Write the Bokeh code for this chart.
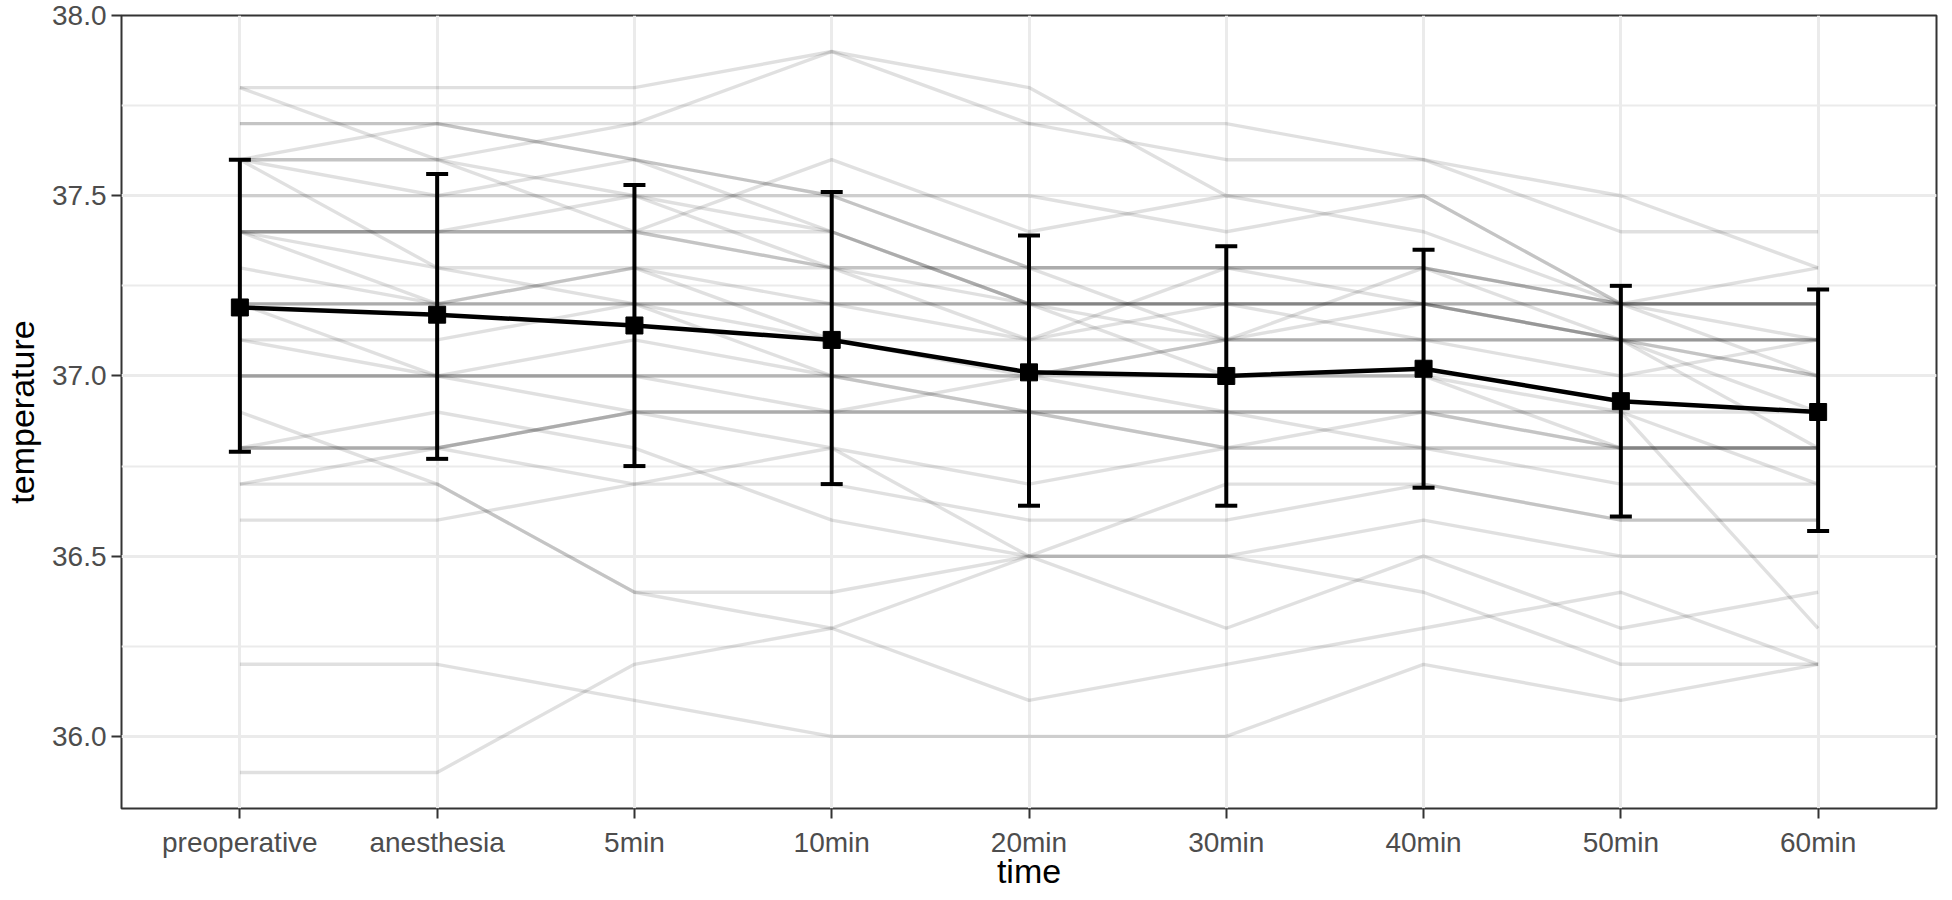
from bokeh.plotting import figure
from bokeh.models import (FactorRange, Range1d, SingleIntervalTicker, PrintfTickFormatter,
                          Whisker, TeeHead, ColumnDataSource)
from bokeh.embed import file_html
from bokeh.resources import INLINE

# ---------------- data ----------------
times = ["preoperative", "anesthesia", "5min", "10min", "20min", "30min", "40min", "50min", "60min"]

# group mean and mean +/- sd (error bars)
mean_temp = [37.19, 37.17, 37.14, 37.10, 37.01, 37.00, 37.02, 36.93, 36.90]
upper_temp = [37.60, 37.56, 37.53, 37.51, 37.39, 37.36, 37.35, 37.25, 37.24]
lower_temp = [36.79, 36.77, 36.75, 36.70, 36.64, 36.64, 36.69, 36.61, 36.57]

# individual patients (temperature at each time point)
p01 = [37.8, 37.8, 37.8, 37.9, 37.8, 37.5, 37.5, 37.2, 37.1]
p02 = [37.8, 37.6, 37.4, 37.6, 37.4, 37.5, 37.4, 37.2, 37.2]
p03 = [37.7, 37.7, 37.7, 37.9, 37.7, 37.6, 37.6, 37.5, 37.3]
p04 = [37.7, 37.7, 37.6, 37.5, 37.3, 37.3, 37.3, 37.1, 37.1]
p05 = [37.6, 37.7, 37.6, 37.5, 37.3, 37.1, 37.3, 37.2, 37.0]
p06 = [37.6, 37.6, 37.7, 37.7, 37.7, 37.7, 37.6, 37.4, 37.4]
p07 = [37.6, 37.6, 37.5, 37.4, 37.2, 37.2, 37.2, 37.2, 37.2]
p08 = [37.6, 37.5, 37.6, 37.4, 37.2, 37.1, 37.2, 37.1, 37.1]
p09 = [37.6, 37.3, 37.3, 37.3, 37.3, 37.3, 37.2, 37.2, 37.2]
p10 = [37.5, 37.5, 37.5, 37.5, 37.5, 37.4, 37.5, 37.2, 37.3]
p11 = [37.4, 37.4, 37.5, 37.3, 37.1, 37.3, 37.3, 37.2, 37.2]
p12 = [37.4, 37.4, 37.4, 37.3, 37.2, 37.2, 37.2, 37.1, 37.1]
p13 = [37.4, 37.3, 37.2, 37.2, 37.2, 37.2, 37.1, 37.0, 37.1]
p14 = [37.4, 37.2, 37.3, 37.2, 37.1, 37.2, 37.2, 37.1, 36.9]
p15 = [37.3, 37.2, 37.3, 37.1, 37.1, 37.1, 37.1, 37.1, 37.0]
p16 = [37.2, 37.2, 37.2, 37.2, 37.2, 37.0, 37.0, 36.9, 36.3]
p17 = [37.2, 37.2, 37.2, 37.0, 36.9, 36.9, 36.9, 36.8, 36.8]
p18 = [37.2, 37.0, 36.9, 36.9, 36.9, 36.9, 36.9, 36.9, 36.7]
p19 = [37.1, 37.1, 37.2, 37.1, 37.0, 37.0, 37.0, 36.8, 36.8]
p20 = [37.1, 37.0, 37.1, 37.0, 36.9, 36.8, 36.8, 36.8, 36.8]
p21 = [37.0, 37.0, 37.0, 37.0, 37.0, 37.1, 37.1, 37.1, 36.8]
p22 = [37.0, 37.0, 37.0, 36.9, 37.0, 36.9, 36.9, 36.9, 36.9]
p23 = [36.9, 36.7, 36.4, 36.4, 36.5, 36.5, 36.6, 36.5, 36.5]
p24 = [36.8, 36.9, 36.8, 36.6, 36.5, 36.5, 36.4, 36.2, 36.2]
p25 = [36.8, 36.8, 36.9, 36.8, 36.7, 36.8, 36.8, 36.7, 36.7]
p26 = [36.8, 36.8, 36.9, 36.9, 36.9, 36.8, 36.9, 36.8, 36.8]
p27 = [36.7, 36.8, 36.7, 36.8, 36.5, 36.7, 36.7, 36.6, 36.6]
p28 = [36.7, 36.7, 36.4, 36.3, 36.1, 36.2, 36.3, 36.4, 36.2]
p29 = [36.6, 36.6, 36.7, 36.7, 36.6, 36.6, 36.7, 36.6, 36.6]
p30 = [36.2, 36.2, 36.1, 36.0, 36.0, 36.0, 36.2, 36.1, 36.2]
p31 = [35.9, 35.9, 36.2, 36.3, 36.5, 36.3, 36.5, 36.3, 36.4]
p32 = [37.4, 37.4, 37.4, 37.3, 37.3, 37.3, 37.3, 37.2, 37.2]
p33 = [37.2, 37.2, 37.2, 37.2, 37.2, 37.2, 37.2, 37.2, 37.2]
p34 = [37.0, 37.0, 37.0, 37.0, 37.0, 37.1, 37.1, 37.1, 37.1]
p35 = [37.4, 37.4, 37.4, 37.4, 37.2, 37.2, 37.2, 37.1, 37.0]
p36 = [36.8, 36.8, 36.9, 36.9, 36.9, 36.9, 36.8, 36.8, 36.8]

patients = [p01, p02, p03, p04, p05, p06, p07, p08, p09, p10, p11, p12, p13, p14, p15, p16, p17, p18,
            p19, p20, p21, p22, p23, p24, p25, p26, p27, p28, p29, p30, p31, p32, p33, p34, p35, p36]

# ---------------- figure ----------------
FONT = "Liberation Sans"

p = figure(width=1944, height=892,
           x_range=FactorRange(factors=times, range_padding=0.1, range_padding_units="absolute"),
           y_range=Range1d(35.8, 38.0),
           output_backend="svg", toolbar_location=None,
           min_border_left=110, min_border_right=8, min_border_top=15, min_border_bottom=60,
           background_fill_color="white", border_fill_color="white",
           outline_line_color="#333333", outline_line_width=2)

# individual patient lines
p.multi_line(xs=[times] * len(patients), ys=patients,
             line_color="black", line_alpha=0.12, line_width=3.4)

# mean line, error bars, markers
src = ColumnDataSource(dict(time=times, mean=mean_temp, upper=upper_temp, lower=lower_temp))
p.line(x="time", y="mean", source=src, line_color="black", line_width=4.5)
wh = Whisker(base="time", upper="upper", lower="lower", source=src, dimension="height",
             line_color="black", line_width=4,
             upper_head=TeeHead(size=22, line_width=4, line_color="black"),
             lower_head=TeeHead(size=22, line_width=4, line_color="black"))
p.add_layout(wh)
p.scatter(x="time", y="mean", source=src, marker="square", size=17,
          fill_color="black", line_color="black")

# axes / grid
yt = SingleIntervalTicker(interval=0.5, num_minor_ticks=2)
p.yaxis.ticker = yt
p.ygrid.ticker = yt
p.yaxis.formatter = PrintfTickFormatter(format="%.1f")

for g in (p.xgrid, p.ygrid):
    g.grid_line_color = "#EBEBEB"
    g.grid_line_width = 3
p.ygrid.minor_grid_line_color = "#EBEBEB"
p.ygrid.minor_grid_line_width = 2

for ax in (p.xaxis, p.yaxis):
    ax.axis_line_color = None
    ax.major_tick_line_color = "#333333"
    ax.major_tick_line_width = 2
    ax.major_tick_out = 10
    ax.major_tick_in = 0
    ax.minor_tick_line_color = None
    ax.major_label_text_font = FONT
    ax.major_label_text_font_size = "28px"
    ax.major_label_text_color = "#4D4D4D"
    ax.axis_label_text_font = FONT
    ax.axis_label_text_font_size = "34px"
    ax.axis_label_text_font_style = "normal"
    ax.axis_label_text_color = "black"

p.xaxis.axis_label = "time"
p.yaxis.axis_label = "temperature"
p.xaxis.major_label_standoff = 8
p.xaxis.axis_label_standoff = -9
p.yaxis.major_label_standoff = 5
p.yaxis.axis_label_standoff = 8

open("out.html", "w").write(file_html(p, INLINE))
